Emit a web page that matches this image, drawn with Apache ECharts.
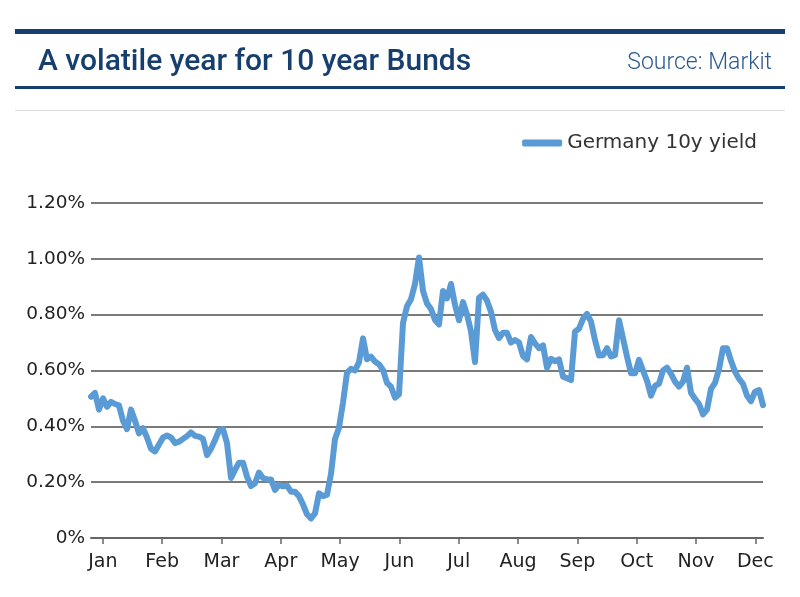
<!DOCTYPE html>
<html><head><meta charset="utf-8">
<script src="https://cdn.jsdelivr.net/npm/echarts@6/dist/echarts.min.js"></script>
<style>html,body{margin:0;padding:0;background:#fff}#c{width:800px;height:597px}</style>
</head><body><div id="c"></div>
<script>
const chartTitle = 'A volatile year for 10 year Bunds';
const sourceText = 'Source: Markit';
const seriesName = 'Germany 10y yield';
const months = ['Jan','Feb','Mar','Apr','May','Jun','Jul','Aug','Sep','Oct','Nov','Dec'];
const monthTicks = [0,1,2,3,4,5,6,7,8,9,10,11];
const yMin = 0, yMax = 1.2, yStep = 0.2;
const yields = [
0.506,0.52,0.46,0.50,0.47,0.488,0.48,0.475,0.42,0.39,
0.46,0.42,0.375,0.393,0.36,0.32,0.31,0.335,0.36,0.367,
0.36,0.34,0.345,0.355,0.365,0.378,0.366,0.363,0.355,0.297,
0.32,0.351,0.385,0.39,0.34,0.215,0.244,0.27,0.27,0.22,
0.186,0.196,0.234,0.215,0.21,0.21,0.172,0.19,0.185,0.188,
0.166,0.166,0.15,0.12,0.085,0.07,0.088,0.16,0.15,0.155,
0.23,0.355,0.395,0.485,0.592,0.606,0.60,0.63,0.715,0.64,
0.65,0.632,0.622,0.602,0.556,0.542,0.503,0.515,0.77,0.83,
0.855,0.91,1.005,0.885,0.84,0.82,0.781,0.765,0.885,0.858,
0.91,0.835,0.78,0.845,0.80,0.74,0.63,0.86,0.872,0.85,
0.81,0.745,0.716,0.735,0.735,0.70,0.709,0.70,0.652,0.64,
0.72,0.697,0.68,0.69,0.61,0.642,0.633,0.64,0.578,0.572,
0.566,0.739,0.75,0.785,0.803,0.775,0.709,0.654,0.655,0.68,
0.65,0.655,0.78,0.715,0.65,0.59,0.59,0.638,0.60,0.563,
0.51,0.545,0.553,0.60,0.61,0.588,0.56,0.542,0.56,0.61,
0.52,0.498,0.48,0.443,0.46,0.534,0.556,0.605,0.68,0.68,
0.635,0.596,0.57,0.552,0.51,0.49,0.524,0.53,0.476
];
const observations = yields.map((_, i) => String(i + 1));

const chart = echarts.init(document.getElementById('c'));
const navy = '#163f6f';
const lineColor = '#5b9bd5';
chart.setOption({
  animation: false,
  backgroundColor: '#fff',
  textStyle: { fontFamily: 'Roboto' },
  title: [
    { text: chartTitle, left: 33, top: 42,
      textStyle: { fontFamily: 'Roboto', fontSize: 30, fontWeight: 500, color: navy } },
    { text: sourceText, right: 23, top: 47,
      textStyle: { fontFamily: 'Roboto', fontSize: 23, fontWeight: 300, color: '#2b5a8f' } }
  ],
  graphic: [
    { type: 'rect', left: 15, top: 29, shape: { width: 770, height: 5 }, style: { fill: navy } },
    { type: 'rect', left: 15, top: 86, shape: { width: 770, height: 3 }, style: { fill: navy } },
    { type: 'rect', left: 15, top: 110, shape: { width: 770, height: 1 }, style: { fill: '#dcdcdc' } }
  ],
  legend: {
    data: [seriesName], right: 38, top: 128,
    icon: 'roundRect', itemWidth: 40, itemHeight: 7, itemGap: 8,
    textStyle: { fontFamily: 'DejaVu Sans', fontSize: 20, color: '#333' }
  },
  grid: { left: 91, right: 37, top: 203, bottom: 59, containLabel: false },
  xAxis: [
    { type: 'category', data: observations, boundaryGap: false, show: false },
    { type: 'value', min: -0.2, max: 11.13, position: 'bottom',
      axisLine: { show: true, lineStyle: { color: '#666', width: 2 } },
      axisTick: { show: true, customValues: monthTicks, length: 6, lineStyle: { color: '#666', width: 1.5 } },
      axisLabel: { customValues: monthTicks, formatter: v => months[Math.round(v)] || '',
        margin: 15, fontFamily: 'DejaVu Sans', fontSize: 19, color: '#222' },
      splitLine: { show: false } }
  ],
  yAxis: {
    type: 'value', min: yMin, max: yMax, interval: yStep,
    axisLine: { show: false }, axisTick: { show: false },
    axisLabel: { formatter: v => v === 0 ? '0%' : v.toFixed(2) + '%', margin: 6,
      fontFamily: 'DejaVu Sans', fontSize: 18.5, color: '#222' },
    splitLine: { lineStyle: { color: '#7a7a7a', width: 2 } }
  },
  series: [{
    name: seriesName, type: 'line', xAxisIndex: 0, data: yields,
    showSymbol: false, symbol: 'none',
    lineStyle: { color: lineColor, width: 6, join: 'round', cap: 'round' },
    itemStyle: { color: lineColor }
  }]
});
</script></body></html>
